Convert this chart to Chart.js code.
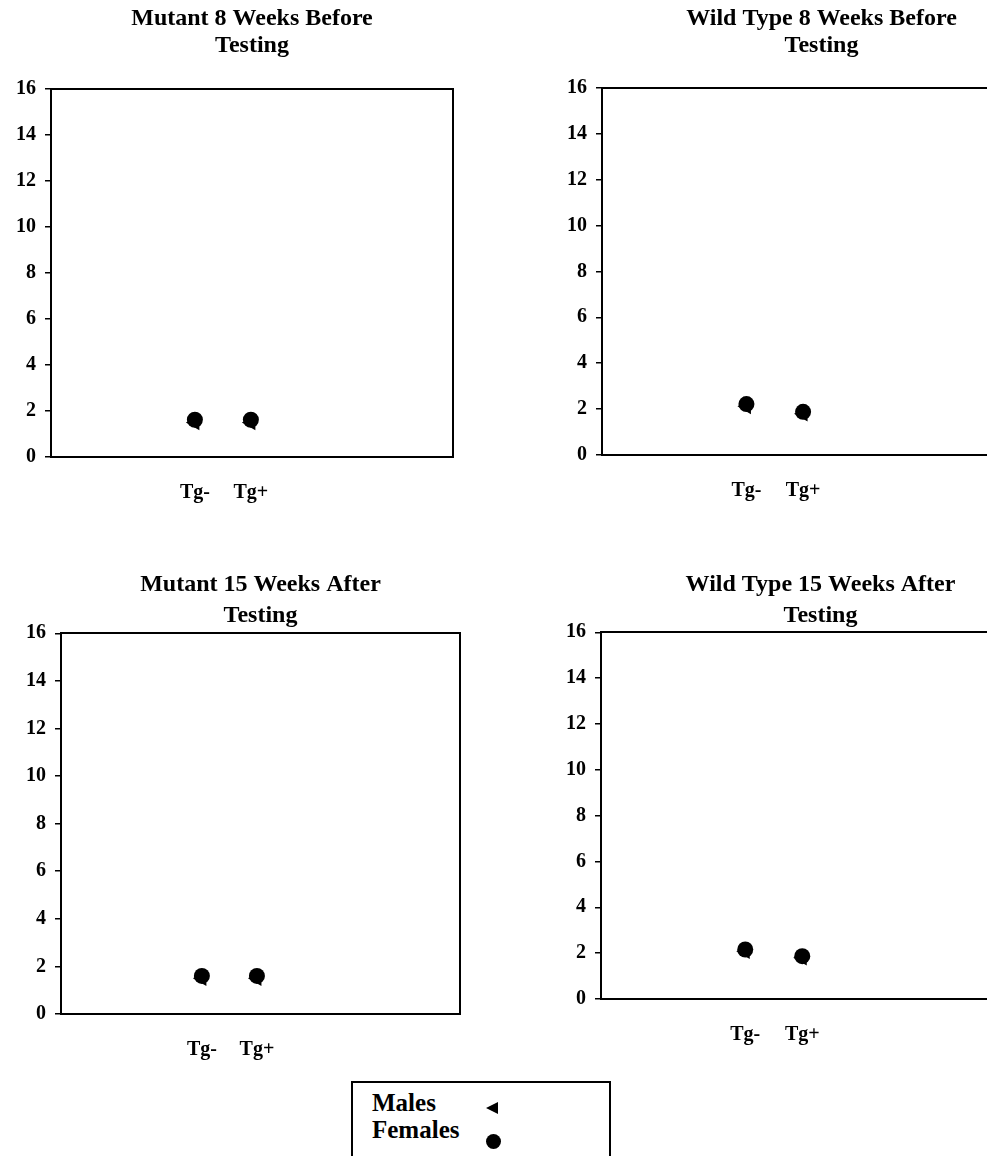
<!DOCTYPE html>
<html>
<head>
<meta charset="utf-8">
<script src="https://cdn.jsdelivr.net/npm/chart.js@4.4.1/dist/chart.umd.min.js"></script>
<style>
  html, body { margin: 0; padding: 0; background: #fff; overflow: hidden; width: 987px; height: 1156px; }
  .panel { position: absolute; }
  #legendBox {
    position: absolute; left: 351px; top: 1081px; width: 256px; height: 90px;
    border: 2px solid #000; font-family: "Liberation Serif", serif; font-weight: bold;
    font-size: 25px; color: #000;
  }
  .row { position: absolute; left: 19px; }
  .tri { position: absolute; left: 133px; width: 0; height: 0;
    border-top: 6px solid transparent; border-bottom: 6px solid transparent; border-right: 12px solid #000; }
  .dot { position: absolute; left: 133px; width: 15px; height: 15px; border-radius: 50%; background: #000; }
</style>
</head>
<body>
<div class="panel" style="left:0;top:0;width:470px;height:515px"><canvas id="c1"></canvas></div>
<div class="panel" style="left:551px;top:0;width:510px;height:515px"><canvas id="c2"></canvas></div>
<div class="panel" style="left:10px;top:560px;width:470px;height:500px"><canvas id="c3"></canvas></div>
<div class="panel" style="left:550px;top:560px;width:510px;height:490px"><canvas id="c4"></canvas></div>
<div id="legendBox">
  <div class="row" style="top:6px">Males</div>
  <div class="tri" style="top:19px"></div>
  <div class="row" style="top:33px">Females</div>
  <div class="dot" style="top:51px"></div>
</div>
<script>
// Datos
const grupos = ['Tg-', 'Tg+'];
const yTicks = [0, 2, 4, 6, 8, 10, 12, 14, 16];

const mutante8Machos = [1.5, 1.5];
const mutante8Hembras = [1.62, 1.62];
const silvestre8Machos = [2.12, 1.8];
const silvestre8Hembras = [2.22, 1.88];
const mutante15Machos = [1.5, 1.5];
const mutante15Hembras = [1.6, 1.6];
const silvestre15Machos = [2.08, 1.8];
const silvestre15Hembras = [2.16, 1.87];

const fuente = '"Liberation Serif", "Times New Roman", serif';

function puntos(valores) {
    return valores.map((v, i) => ({ x: i + 1, y: v }));
}

// Crear un panel
function crearPanel(id, titulo, machos, hembras, cfg) {
    const ctx = document.getElementById(id).getContext('2d');
    return new Chart(ctx, {
        type: 'scatter',
        data: {
            datasets: [
                {
                    label: 'Females',
                    data: puntos(hembras),
                    pointStyle: 'circle',
                    pointRadius: 8,
                    backgroundColor: '#000',
                    borderColor: '#000',
                    borderWidth: 0
                },
                {
                    label: 'Males',
                    data: puntos(machos),
                    pointStyle: 'triangle',
                    rotation: -90,
                    pointRadius: 9,
                    backgroundColor: '#000',
                    borderColor: '#000',
                    borderWidth: 0
                }
            ]
        },
        options: {
            responsive: true,
            maintainAspectRatio: false,
            animation: false,
            events: [],
            layout: { padding: { left: 0, right: cfg.padRight, top: 0, bottom: 0 } },
            plugins: {
                legend: { display: false },
                tooltip: { enabled: false },
                title: {
                    display: true,
                    text: titulo,
                    fullSize: false,
                    color: '#000',
                    font: { family: fuente, size: 24, weight: 'bold', lineHeight: cfg.titleLH },
                    padding: { top: cfg.titleTop, bottom: cfg.titleBottom }
                }
            },
            scales: {
                x: {
                    type: 'linear',
                    min: cfg.xMin,
                    max: cfg.xMax,
                    afterBuildTicks: (scale) => {
                        scale.ticks = grupos.map((g, i) => ({ value: i + 1 }));
                    },
                    afterFit: (scale) => { scale.height = cfg.xHeight; },
                    ticks: {
                        color: '#000',
                        padding: 24,
                        maxRotation: 0,
                        autoSkip: false,
                        font: { family: fuente, size: 20, weight: 'bold' },
                        callback: (value) => grupos[value - 1]
                    },
                    grid: { display: false, drawTicks: false },
                    border: { display: true, color: '#000', width: 2 }
                },
                xTop: {
                    type: 'linear',
                    position: 'top',
                    ticks: { display: false },
                    afterFit: (scale) => { scale.height = 0; },
                    grid: { display: false, drawTicks: false },
                    border: { display: true, color: '#000', width: 2 }
                },
                y: {
                    min: 0,
                    max: 16,
                    afterBuildTicks: (scale) => {
                        scale.ticks = yTicks.map(v => ({ value: v }));
                    },
                    afterFit: (scale) => { scale.width = cfg.yWidth; },
                    ticks: {
                        color: '#000',
                        padding: 9,
                        font: { family: fuente, size: 20, weight: 'bold' }
                    },
                    grid: { display: true, drawOnChartArea: false, drawTicks: true, tickLength: 6, color: '#000', lineWidth: 1.5 },
                    border: { display: true, color: '#000', width: 2 }
                },
                yRight: {
                    type: 'linear',
                    position: 'right',
                    ticks: { display: false },
                    afterFit: (scale) => { scale.width = 0; },
                    grid: { display: false, drawTicks: false },
                    border: { display: true, color: '#000', width: 2 }
                }
            }
        }
    });
}

crearPanel('c1', ['Mutant 8 Weeks Before', 'Testing'], mutante8Machos, mutante8Hembras,
    { yWidth: 51, padRight: 17, xHeight: 58, titleLH: 1.1, titleTop: 6, titleBottom: 30, xMin: -1.57, xMax: 5.61 });
crearPanel('c2', ['Wild Type 8 Weeks Before', 'Testing'], silvestre8Machos, silvestre8Hembras,
    { yWidth: 51, padRight: 20, xHeight: 60, titleLH: 1.1, titleTop: 6, titleBottom: 29, xMin: -1.55, xMax: 6.2 });
crearPanel('c3', ['Mutant 15 Weeks After', 'Testing'], mutante15Machos, mutante15Hembras,
    { yWidth: 51, padRight: 20, xHeight: 46, titleLH: 1.3, titleTop: 9.4, titleBottom: 1.5, xMin: -1.56, xMax: 5.69 });
crearPanel('c4', ['Wild Type 15 Weeks After', 'Testing'], silvestre15Machos, silvestre15Hembras,
    { yWidth: 51, padRight: 20, xHeight: 51, titleLH: 1.3, titleTop: 9.4, titleBottom: 0.5, xMin: -1.53, xMax: 6.17 });
</script>
</body>
</html>
